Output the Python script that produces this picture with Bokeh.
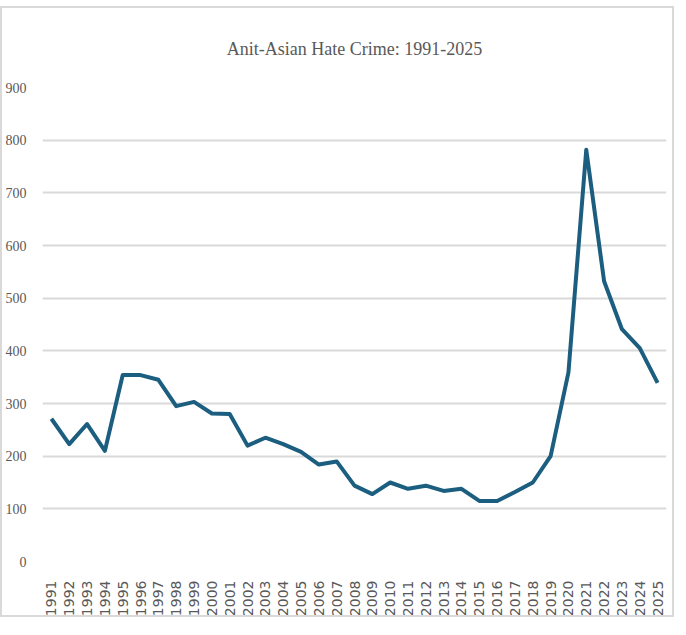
from bokeh.plotting import figure
from bokeh.models import Range1d, FixedTicker
from bokeh.embed import file_html
from bokeh.resources import INLINE
import math

years = list(range(1991, 2026))
cases = [271, 223, 261, 210, 354, 354, 345, 295, 303, 281,
         280, 220, 235, 223, 208, 184, 190, 144, 128, 150,
         138, 144, 134, 138, 115, 115, 132, 150, 200, 359,
         782, 532, 441, 405, 339]
y_ticks = [0, 100, 200, 300, 400, 500, 600, 700, 800, 900]

p = figure(width=674, height=611, output_backend="svg", toolbar_location=None,
           x_range=Range1d(1990.5, 2025.5), y_range=Range1d(0, 900),
           title="Anit-Asian Hate Crime: 1991-2025",
           min_border_left=33, min_border_right=10, min_border_top=78, min_border_bottom=58)

p.styles = {"border": "2px solid #d9d9d9", "margin-top": "6px"}

p.line(years, cases, line_color="#1b5e7f", line_width=4, line_join="round")

p.title.align = "center"
p.title.text_font = "Liberation Serif"
p.title.text_font_style = "normal"
p.title.text_font_size = "18px"
p.title.text_color = "#595959"
p.title.offset = 0
p.title.standoff = 57

p.outline_line_color = None
p.xgrid.grid_line_color = None
p.ygrid.grid_line_color = "#d9d9d9"
p.ygrid.grid_line_width = 2

p.yaxis.ticker = FixedTicker(ticks=y_ticks)
p.yaxis.axis_line_color = None
p.yaxis.major_tick_line_color = None
p.yaxis.minor_tick_line_color = None
p.yaxis.major_label_text_font = "Liberation Serif"
p.yaxis.major_label_text_font_size = "14px"
p.yaxis.major_label_text_color = "#595959"
p.yaxis.major_label_standoff = 10

p.xaxis.ticker = FixedTicker(ticks=years)
p.xaxis.axis_line_color = None
p.xaxis.major_tick_line_color = None
p.xaxis.minor_tick_line_color = None
p.xaxis.major_label_orientation = math.pi / 2
p.xaxis.major_label_text_font = "DejaVu Sans"
p.xaxis.major_label_text_font_size = "14px"
p.xaxis.major_label_text_color = "#595959"
p.xaxis.major_label_standoff = 13

open("out.html", "w").write(file_html(p, INLINE))
